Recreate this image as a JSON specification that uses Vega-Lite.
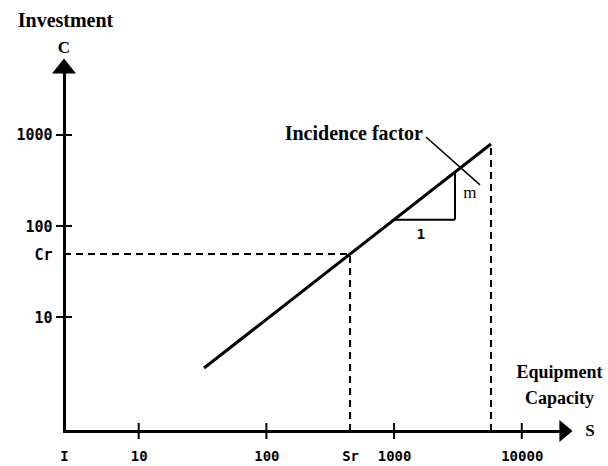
{
  "$schema": "https://vega.github.io/schema/vega-lite/v6.json",
  "width": 502,
  "height": 365,
  "autosize": {"type": "none"},
  "padding": {"left": 64, "top": 66, "right": 42, "bottom": 35},
  "background": "white",
  "config": {"view": {"stroke": null}},
  "encoding": {
    "x": {
      "field": "s",
      "type": "quantitative",
      "scale": {"type": "log", "domain": [2.6, 22200], "nice": false},
      "axis": {
        "values": [2.6, 10, 100, 452, 1000, 10000],
        "labelExpr": "datum.value < 5 ? 'I' : (datum.value > 400 && datum.value < 500) ? 'Sr' : format(datum.value, 'd')",
        "ticks": false,
        "tickSize": 0,
        "grid": false,
        "domainColor": "black",
        "domainWidth": 3,
        "domainCap": "square",
        "labelFont": "DejaVu Sans Mono",
        "labelFontWeight": "bold",
        "labelFontSize": 14,
        "labelColor": "black",
        "labelPadding": 18,
        "labelFlush": false,
        "labelBound": false,
        "labelOverlap": false,
        "title": ["Equipment", "Capacity"],
        "titleFont": "Liberation Serif",
        "titleFontSize": 18,
        "titleFontWeight": "bold",
        "titleColor": "black",
        "titleAlign": "center",
        "titleBaseline": "alphabetic",
        "titleX": 495,
        "titleY": -54,
        "titleLineHeight": 26
      }
    },
    "y": {
      "field": "c",
      "type": "quantitative",
      "scale": {"type": "log", "domain": [0.559, 5730], "nice": false},
      "axis": {
        "values": [10, 49.2, 100, 1000],
        "labelExpr": "(datum.value > 40 && datum.value < 60) ? 'Cr' : format(datum.value, 'd')",
        "ticks": false,
        "tickSize": 0,
        "grid": false,
        "domainColor": "black",
        "domainWidth": 3,
        "domainCap": "square",
        "labelFont": "DejaVu Sans Mono",
        "labelFontWeight": "bold",
        "labelFontSize": 15,
        "labelColor": "black",
        "labelPadding": 12,
        "labelBound": false,
        "labelFlush": false,
        "labelOverlap": false,
        "title": "Investment",
        "titleAngle": 0,
        "titleFont": "Liberation Serif",
        "titleFontSize": 20,
        "titleFontWeight": "bold",
        "titleColor": "black",
        "titleAlign": "center",
        "titleBaseline": "alphabetic",
        "titleX": 1,
        "titleY": -40
      }
    }
  },
  "layer": [
    {
      "data": {"values": [
        {"s": 452, "c": 0.559, "s2": 452, "c2": 49.2},
        {"s": 2.6, "c": 49.2, "s2": 452, "c2": 49.2},
        {"s": 5740, "c": 0.559, "s2": 5740, "c2": 796}
      ]},
      "mark": {"type": "rule", "color": "black", "strokeWidth": 2, "strokeDash": [7, 5]},
      "encoding": {"x2": {"field": "s2"}, "y2": {"field": "c2"}}
    },
    {
      "data": {"values": [
        {"s": 1000, "c": 117.5, "s2": 3000, "c2": 117.5},
        {"s": 3000, "c": 117.5, "s2": 3000, "c2": 391}
      ]},
      "mark": {"type": "rule", "color": "black", "strokeWidth": 2},
      "encoding": {"x2": {"field": "s2"}, "y2": {"field": "c2"}}
    },
    {
      "data": {"values": [
        {"s": 1778, "c": 951, "s2": 4710, "c2": 283}
      ]},
      "mark": {"type": "rule", "color": "black", "strokeWidth": 1.5},
      "encoding": {"x2": {"field": "s2"}, "y2": {"field": "c2"}}
    },
    {
      "data": {"values": [
        {"s": 32.5, "c": 2.75},
        {"s": 5740, "c": 796}
      ]},
      "mark": {"type": "line", "color": "black", "strokeWidth": 3}
    },
    {
      "data": {"values": [
        {"s": 10, "c": 0.559},
        {"s": 100, "c": 0.559},
        {"s": 1000, "c": 0.559},
        {"s": 10000, "c": 0.559}
      ]},
      "mark": {"type": "tick", "orient": "vertical", "size": 16, "thickness": 2, "color": "black", "opacity": 1}
    },
    {
      "data": {"values": [
        {"s": 2.6, "c": 10},
        {"s": 2.6, "c": 100},
        {"s": 2.6, "c": 1000}
      ]},
      "mark": {"type": "tick", "orient": "horizontal", "size": 16, "thickness": 2, "color": "black", "opacity": 1}
    },
    {
      "data": {"values": [{"s": 2.6, "c": 5730}]},
      "mark": {"type": "point", "shape": "M-1,0.625L0,-0.625L1,0.625Z", "size": 576, "filled": true, "color": "black", "opacity": 1, "strokeWidth": 0}
    },
    {
      "data": {"values": [{"s": 22200, "c": 0.559}]},
      "mark": {"type": "point", "shape": "M-0.6,-1L0.6,0L-0.6,1Z", "size": 484, "filled": true, "color": "black", "opacity": 1, "strokeWidth": 0}
    },
    {
      "data": {"values": [{"s": 1778, "c": 951, "label": "Incidence factor"}]},
      "mark": {"type": "text", "align": "right", "baseline": "alphabetic", "dx": -3, "dy": 3, "font": "Liberation Serif", "fontSize": 20, "fontWeight": "bold", "color": "black"},
      "encoding": {"text": {"field": "label"}}
    },
    {
      "data": {"values": [{"s": 3930, "c": 231, "label": "m"}]},
      "mark": {"type": "text", "align": "center", "baseline": "middle", "font": "Liberation Serif", "fontSize": 17, "color": "black"},
      "encoding": {"text": {"field": "label"}}
    },
    {
      "data": {"values": [{"s": 1625, "c": 79.6, "label": "1"}]},
      "mark": {"type": "text", "align": "center", "baseline": "middle", "font": "DejaVu Sans Mono", "fontSize": 14, "fontWeight": "bold", "color": "black"},
      "encoding": {"text": {"field": "label"}}
    },
    {
      "data": {"values": [{"s": 2.6, "c": 5730, "label": "C"}]},
      "mark": {"type": "text", "align": "center", "baseline": "alphabetic", "dy": -13, "font": "Liberation Serif", "fontSize": 17, "fontWeight": "bold", "color": "black"},
      "encoding": {"text": {"field": "label"}}
    },
    {
      "data": {"values": [{"s": 22200, "c": 0.559, "label": "S"}]},
      "mark": {"type": "text", "align": "center", "baseline": "alphabetic", "dx": 24, "dy": 5, "font": "Liberation Serif", "fontSize": 17, "fontWeight": "bold", "color": "black"},
      "encoding": {"text": {"field": "label"}}
    }
  ]
}
